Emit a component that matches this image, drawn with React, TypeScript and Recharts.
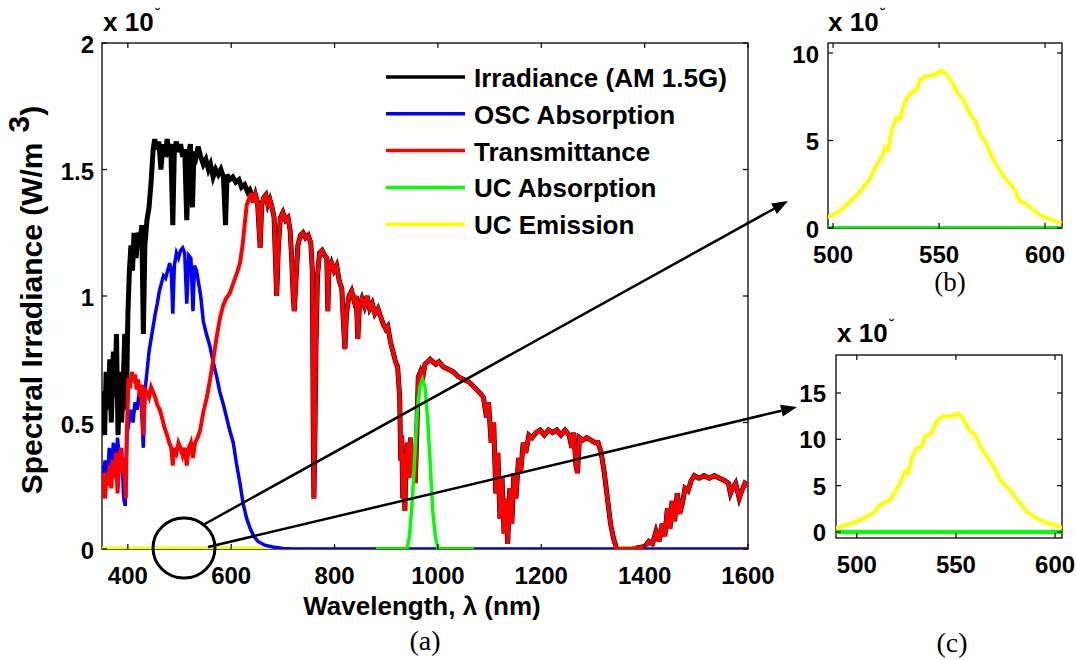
import React from 'react';
import { LineChart, Line, XAxis, YAxis } from 'recharts';

const SANS = '"Liberation Sans", Arial, Helvetica, sans-serif';
const SERIF = '"Liberation Serif", "Times New Roman", Times, serif';

// ---------- panel (a): 350-1600 nm ----------
const mainXTicks = [400, 600, 800, 1000, 1200, 1400, 1600];
const mainYTicks = [0, 0.5, 1, 1.5, 2];

// AM 1.5G, short-wavelength part (black shows above the red here)
const irrShortNm = [350, 352, 355, 358, 362, 365, 368, 372, 375, 378, 381, 385, 388, 391, 394, 397, 400, 403, 406, 409, 412, 416, 420, 424, 427, 430, 433, 437, 441, 445, 449, 452, 456, 460, 464, 468, 472, 476, 479, 483, 487, 490, 494, 498, 502, 506, 510, 514, 518, 521, 525, 528, 532, 536, 541, 546, 551, 556, 560, 565, 570, 575, 580, 585, 589, 592, 597, 603, 609, 615, 620, 626, 632, 636];
const irrShort = [0.6, 0.62, 0.45, 0.7, 0.55, 0.75, 0.5, 0.78, 0.6, 0.85, 0.45, 0.7, 0.5, 0.65, 0.85, 0.55, 0.92, 1.1, 1.2, 1.1, 1.25, 1.15, 1.25, 1.22, 1.28, 0.85, 1.2, 1.3, 1.35, 1.45, 1.58, 1.62, 1.58, 1.61, 1.5, 1.6, 1.55, 1.62, 1.58, 1.6, 1.28, 1.58, 1.61, 1.57, 1.6, 1.55, 1.58, 1.3, 1.57, 1.6, 1.35, 1.57, 1.55, 1.59, 1.55, 1.52, 1.54, 1.5, 1.52, 1.47, 1.5, 1.48, 1.5, 1.47, 1.28, 1.48, 1.46, 1.47, 1.45, 1.46, 1.43, 1.44, 1.41, 1.42];

// transmittance, short-wavelength part
const transShortNm = [350, 353, 356, 359, 362, 365, 368, 371, 374, 377, 380, 383, 386, 390, 393, 396, 398, 401, 405, 408, 411, 414, 417, 420, 423, 426, 430, 433, 437, 441, 445, 449, 453, 457, 462, 466, 471, 476, 480, 484, 487, 490, 494, 498, 502, 506, 510, 514, 518, 522, 526, 530, 535, 540, 546, 553, 560, 566, 572, 578, 584, 590, 597, 604, 611, 617, 622, 626, 630, 634, 637];
const transShort = [0.3, 0.25, 0.2, 0.3, 0.25, 0.33, 0.24, 0.35, 0.28, 0.38, 0.22, 0.32, 0.4, 0.3, 0.36, 0.2, 0.45, 0.66, 0.65, 0.7, 0.66, 0.69, 0.63, 0.67, 0.6, 0.65, 0.45, 0.63, 0.62, 0.6, 0.64, 0.62, 0.6, 0.57, 0.55, 0.52, 0.48, 0.45, 0.42, 0.4, 0.33, 0.4, 0.38, 0.42, 0.4, 0.37, 0.4, 0.33, 0.4, 0.42, 0.36, 0.42, 0.44, 0.47, 0.54, 0.6, 0.68, 0.76, 0.84, 0.91, 0.96, 0.99, 1.01, 1.05, 1.09, 1.13, 1.2, 1.28, 1.36, 1.38, 1.4];

// from 640 nm on, irradiance and transmittance coincide
const sharedNm = [640, 643, 647, 651, 656, 659, 663, 667, 671, 675, 679, 683, 686, 688, 691, 695, 700, 705, 710, 714, 717, 720, 722, 725, 729, 734, 739, 744, 749, 754, 757, 759, 760, 762, 764, 767, 771, 776, 781, 785, 787, 789, 794, 799, 804, 809, 814, 817, 820, 823, 828, 833, 838, 842, 845, 848, 853, 858, 863, 868, 873, 878, 884, 889, 894, 899, 903, 908, 913, 918, 922, 926, 928, 930, 932, 934, 936, 938, 941, 944, 947, 950, 953, 956, 959, 962, 966, 970, 975, 980, 985, 990, 996, 1002, 1010, 1020, 1030, 1040, 1050, 1060, 1070, 1080, 1088, 1094, 1098, 1103, 1108, 1112, 1116, 1120, 1124, 1128, 1132, 1135, 1139, 1143, 1147, 1151, 1156, 1160, 1165, 1170, 1176, 1182, 1190, 1198, 1206, 1214, 1222, 1230, 1238, 1246, 1254, 1259, 1263, 1267, 1270, 1274, 1280, 1288, 1296, 1304, 1310, 1316, 1322, 1328, 1334, 1340, 1346, 1350, 1375, 1400, 1408, 1415, 1422, 1428, 1434, 1439, 1444, 1449, 1453, 1458, 1463, 1468, 1473, 1478, 1484, 1490, 1496, 1505, 1515, 1525, 1535, 1545, 1555, 1562, 1566, 1570, 1576, 1583, 1588, 1594, 1600];
const sharedVal = [1.4, 1.37, 1.4, 1.37, 1.19, 1.36, 1.39, 1.4, 1.36, 1.38, 1.35, 1.31, 1.12, 1.0, 1.18, 1.31, 1.33, 1.3, 1.31, 1.26, 1.15, 1.0, 0.94, 1.05, 1.2, 1.24, 1.25, 1.23, 1.24, 1.21, 1.1, 0.4, 0.2, 0.45, 0.8, 1.08, 1.17, 1.18, 1.16, 1.15, 0.94, 1.1, 1.13, 1.1, 1.12, 1.06, 1.03, 0.9, 0.79, 0.93, 1.0, 1.02, 0.98, 1.0, 0.83, 0.96, 0.99, 0.96, 1.0, 0.95, 0.97, 0.93, 0.95, 0.92, 0.89, 0.87, 0.88, 0.82, 0.78, 0.74, 0.72, 0.6, 0.35, 0.45, 0.2, 0.38, 0.15, 0.33, 0.42, 0.28, 0.44, 0.3, 0.4, 0.26, 0.45, 0.68, 0.7, 0.67, 0.73, 0.74, 0.75, 0.74, 0.73, 0.74, 0.72, 0.71, 0.7, 0.68, 0.67, 0.66, 0.64, 0.62, 0.6, 0.52, 0.58, 0.42, 0.5, 0.22, 0.38, 0.12, 0.28, 0.06, 0.2, 0.02, 0.24, 0.1, 0.3, 0.2, 0.36, 0.3, 0.42, 0.38, 0.45, 0.44, 0.46, 0.47, 0.45, 0.47, 0.46, 0.47, 0.45, 0.47, 0.45, 0.4, 0.46, 0.33, 0.3, 0.44, 0.43, 0.44, 0.43, 0.42, 0.42, 0.38, 0.3, 0.2, 0.1, 0.04, 0.0, 0, 0, 0.01, 0.03, 0.02, 0.07, 0.03, 0.1, 0.05, 0.16, 0.08, 0.19, 0.11, 0.22, 0.14, 0.18, 0.24, 0.23, 0.27, 0.29, 0.28, 0.29, 0.28, 0.29, 0.28, 0.27, 0.26, 0.22, 0.24, 0.26, 0.2, 0.23, 0.26, 0.25];

// OSC absorption
const oscNm = [350, 353, 356, 360, 364, 368, 372, 376, 380, 384, 388, 392, 395, 398, 402, 406, 410, 414, 418, 422, 426, 430, 433, 437, 441, 445, 449, 453, 457, 461, 465, 469, 473, 477, 481, 484, 487, 490, 494, 498, 502, 506, 510, 514, 518, 522, 526, 529, 533, 537, 541, 546, 552, 559, 565, 572, 578, 585, 591, 597, 604, 610, 617, 623, 630, 637, 644, 652, 665, 681, 700, 720, 1600];
const oscAbs = [0.33, 0.3, 0.35, 0.25, 0.4, 0.3, 0.42, 0.28, 0.44, 0.35, 0.4, 0.2, 0.17, 0.45, 0.5, 0.55, 0.5, 0.58, 0.55, 0.62, 0.58, 0.4, 0.62, 0.7, 0.78, 0.83, 0.88, 0.93, 0.97, 1.02, 1.05, 1.08, 1.07, 1.1, 1.13, 1.1, 0.93, 1.12, 1.17, 1.15, 1.18, 1.19, 1.17, 0.97, 1.16, 1.15, 0.94, 1.12, 1.1, 1.05, 1.0, 0.9, 0.85, 0.8, 0.74, 0.68, 0.62, 0.57, 0.52, 0.47, 0.42, 0.34, 0.26, 0.18, 0.12, 0.08, 0.05, 0.03, 0.015, 0.008, 0.002, 0, 0];

// UC absorption
const ucAbsNm = [880, 940, 945, 950, 955, 960, 965, 970, 975, 980, 985, 990, 995, 1000, 1070];
const ucAbs = [0, 0, 0.05, 0.18, 0.36, 0.55, 0.64, 0.67, 0.64, 0.52, 0.34, 0.15, 0.05, 0, 0];

// UC emission (too small to see on this scale)
const ucEmNm = [350, 500, 550, 600, 700, 1600];
const ucEm = [0, 0, 0, 0, 0, 0];

// ---------- panel (b) ----------
const bXTicks = [500, 550, 600];
const bYTicks = [0, 5, 10];
const bEmNm = [497, 503, 508, 512, 515, 517, 520, 523, 524.5, 526, 527.6, 530, 531.6, 534, 537, 539.4, 541, 544, 547.3, 551.2, 553.6, 556.7, 559.1, 561.4, 564.6, 567, 569.3, 572.4, 575.6, 578.7, 581.9, 585.8, 588.2, 590.5, 594.5, 597.6, 600.7, 603.9, 607.8];
const bEm = [0.57, 0.95, 1.51, 1.98, 2.45, 2.74, 3.49, 4.06, 4.62, 4.5, 5.57, 6.33, 6.24, 7.27, 7.73, 7.92, 8.48, 8.67, 8.73, 9.0, 8.77, 8.2, 7.65, 7.35, 6.5, 6.12, 5.37, 4.8, 3.87, 3.3, 2.74, 2.17, 1.51, 1.42, 1.04, 0.75, 0.57, 0.44, 0.28];
const bAbsNm = [490, 615];
const bAbs = [0, 0];

// ---------- panel (c) ----------
const cXTicks = [500, 550, 600];
const cYTicks = [0, 5, 10, 15];
const cEmNm = [489, 494.9, 499.9, 505, 509.2, 511.7, 516.8, 519.3, 521.8, 524.3, 526, 527.7, 530.2, 532.8, 534.4, 537.8, 540.3, 543.7, 547.9, 551.3, 553.8, 557.2, 559.7, 562.2, 565.6, 569, 572.3, 575.7, 579.1, 582.4, 585.8, 589.2, 592.5, 595.9, 600.1, 603.5];
const cEm = [0.4, 0.76, 1.12, 1.66, 2.2, 2.92, 3.46, 4.36, 5.27, 6.53, 6.35, 7.97, 9.06, 9.24, 10.32, 10.68, 11.94, 12.49, 12.49, 12.78, 12.13, 10.86, 10.5, 9.24, 8.15, 7.05, 5.61, 4.9, 4.0, 3.1, 2.2, 1.66, 1.3, 0.94, 0.76, 0.4];
const cAbsNm = [480, 615];
const cAbs = [0, 0];

const legendItems = [
  { name: 'Irradiance (AM 1.5G)', color: '#000000' },
  { name: 'OSC Absorption', color: '#0000ff' },
  { name: 'Transmittance', color: '#ff0000' },
  { name: 'UC Absorption', color: '#00ff00' },
  { name: 'UC Emission', color: '#ffff00' },
];

const pts = (xs: number[], ys: number[]) => xs.map((x, i) => ({ x, y: ys[i] }));

const irradianceData = [...pts(irrShortNm, irrShort), ...pts(sharedNm, sharedVal)];
const transmittanceData = [...pts(transShortNm, transShort), ...pts(sharedNm, sharedVal)];
const oscData = pts(oscNm, oscAbs);
const ucAbsData = pts(ucAbsNm, ucAbs);
const ucEmData = pts(ucEmNm, ucEm);

type Box = { left: number; right: number; top: number; bottom: number; xLabelY: number; yLabelGap: number; yDy: number };

// MATLAB style: ticks point inwards and are mirrored on the opposite side
const xTick = (b: Box) => (props: any) => {
  const { x, payload } = props;
  return (
    <g>
      <line x1={x} x2={x} y1={b.bottom} y2={b.bottom - 5} stroke="#000" strokeWidth={1.2} />
      <line x1={x} x2={x} y1={b.top} y2={b.top + 5} stroke="#000" strokeWidth={1.2} />
      <text x={x} y={b.xLabelY} textAnchor="middle" fontFamily={SANS} fontWeight="bold" fontSize={24} fill="#000">
        {payload.value}
      </text>
    </g>
  );
};

const yTick = (b: Box) => (props: any) => {
  const { y, payload } = props;
  return (
    <g>
      <line x1={b.left} x2={b.left + 5} y1={y} y2={y} stroke="#000" strokeWidth={1.2} />
      <line x1={b.right} x2={b.right - 5} y1={y} y2={y} stroke="#000" strokeWidth={1.2} />
      <text x={b.left - b.yLabelGap} y={y + b.yDy} textAnchor="end" fontFamily={SANS} fontWeight="bold" fontSize={24} fill="#000">
        {payload.value}
      </text>
    </g>
  );
};

const MAIN: Box = { left: 102, right: 748, top: 43, bottom: 549, xLabelY: 584, yLabelGap: 8, yDy: 10 };
const PB: Box = { left: 58, right: 292, top: 43, bottom: 228, xLabelY: 263, yLabelGap: 9, yDy: 10 };
const PC: Box = { left: 66, right: 292, top: 45, bottom: 228, xLabelY: 263, yLabelGap: 10, yDy: 9 };

function MainChart() {
  return (
    <LineChart width={790} height={600} margin={{ top: 43, right: 42, bottom: 21, left: 52 }}>
      <XAxis type="number" dataKey="x" domain={[350, 1600]} ticks={mainXTicks} interval={0} height={30}
        axisLine={false} tickLine={false} tick={xTick(MAIN)} allowDataOverflow />
      <YAxis type="number" domain={[0, 2]} ticks={mainYTicks} interval={0} width={50}
        axisLine={false} tickLine={false} tick={yTick(MAIN)} allowDataOverflow />
      <Line data={irradianceData} dataKey="y" type="linear" stroke="#000000" strokeWidth={5} dot={false} isAnimationActive={false} />
      <Line data={ucEmData} dataKey="y" type="linear" stroke="#ffff00" strokeWidth={5} dot={false} isAnimationActive={false} />
      <Line data={oscData} dataKey="y" type="linear" stroke="#0000ff" strokeWidth={3.5} dot={false} isAnimationActive={false} />
      <Line data={transmittanceData} dataKey="y" type="linear" stroke="#ff0000" strokeWidth={4} dot={false} isAnimationActive={false} />
      <Line data={ucAbsData} dataKey="y" type="linear" stroke="#00ff00" strokeWidth={3.5} dot={false} isAnimationActive={false} />
    </LineChart>
  );
}

function ZoomChart({ box, xDomain, yDomain, xTicks, yTicks, em, abs }: any) {
  return (
    <LineChart width={306} height={300} margin={{ top: box.top, right: 306 - box.right, bottom: 300 - box.bottom - 30, left: box.left - 40 }}>
      <XAxis type="number" dataKey="x" domain={xDomain} ticks={xTicks} interval={0} height={30}
        axisLine={false} tickLine={false} tick={xTick(box)} allowDataOverflow />
      <YAxis type="number" domain={yDomain} ticks={yTicks} interval={0} width={40}
        axisLine={false} tickLine={false} tick={yTick(box)} allowDataOverflow />
      <Line data={em} dataKey="y" type="linear" stroke="#ffff00" strokeWidth={4} dot={false} isAnimationActive={false} />
      <Line data={abs} dataKey="y" type="linear" stroke="#00ff00" strokeWidth={4} dot={false} isAnimationActive={false} />
    </LineChart>
  );
}

function Arrow({ x1, y1, x2, y2 }: { x1: number; y1: number; x2: number; y2: number }) {
  const a = Math.atan2(y2 - y1, x2 - x1);
  const len = 16;
  const half = 6;
  const bx = x2 - len * Math.cos(a);
  const by = y2 - len * Math.sin(a);
  const p1 = `${bx + half * Math.sin(a)},${by - half * Math.cos(a)}`;
  const p2 = `${bx - half * Math.sin(a)},${by + half * Math.cos(a)}`;
  return (
    <g>
      <line x1={x1} y1={y1} x2={bx} y2={by} stroke="#000" strokeWidth={2.5} />
      <polygon points={`${x2},${y2} ${p1} ${p2}`} fill="#000" />
    </g>
  );
}

// axes frames sit behind the data, as in MATLAB
function Frames() {
  return (
    <svg width={1076} height={660} style={{ position: 'absolute', left: 0, top: 0 }}>
      <rect x={102} y={43} width={646} height={506} fill="none" stroke="#000" strokeWidth={1.3} />
      <rect x={828} y={43} width={234} height={185} fill="none" stroke="#000" strokeWidth={1.3} />
      <rect x={836} y={355} width={226} height={183} fill="none" stroke="#000" strokeWidth={1.3} />
    </svg>
  );
}

function Overlay() {
  const t = { fontFamily: SANS, fontWeight: 'bold' as const, fill: '#000' };
  return (
    <svg width={1076} height={660} style={{ position: 'absolute', left: 0, top: 0, pointerEvents: 'none' }}>
      {/* exponent labels */}
      <text x={103} y={31} fontSize={26} {...t}>x 10<tspan dx={2} dy={-12} fontSize={14}>˘</tspan></text>
      <text x={828} y={31} fontSize={26} {...t}>x 10<tspan dx={2} dy={-12} fontSize={14}>˘</tspan></text>
      <text x={837} y={342} fontSize={26} {...t}>x 10<tspan dx={2} dy={-12} fontSize={14}>˘</tspan></text>

      {/* axis titles */}
      <text x={422} y={615} textAnchor="middle" fontSize={26} {...t}>Wavelength, λ (nm)</text>
      <text x={42} y={300} textAnchor="middle" fontSize={30} {...t} transform="rotate(-90 42 300)">
        Spectral Irradiance (W/m<tspan dx={10} dy={-13}>3</tspan><tspan dy={13}>)</tspan>
      </text>

      {/* legend */}
      {legendItems.map((it, i) => {
        const y = 77 + i * 36.8;
        return (
          <g key={it.name}>
            <line x1={386} x2={465} y1={y} y2={y} stroke={it.color} strokeWidth={3.5} />
            <text x={474} y={y + 10} fontSize={26} {...t}>{it.name}</text>
          </g>
        );
      })}

      {/* sub-figure captions */}
      <text x={425} y={650} textAnchor="middle" fontFamily={SERIF} fontSize={28} fill="#000">(a)</text>
      <text x={950} y={291} textAnchor="middle" fontFamily={SERIF} fontSize={27} fill="#000">(b)</text>
      <text x={952} y={652} textAnchor="middle" fontFamily={SERIF} fontSize={28} fill="#000">(c)</text>

      {/* zoom annotation */}
      <ellipse cx={184} cy={548} rx={31} ry={30} fill="none" stroke="#000" strokeWidth={3} />
      <Arrow x1={203} y1={525} x2={788} y2={201} />
      <Arrow x1={208} y1={547} x2={797} y2={407} />
    </svg>
  );
}

export default function App() {
  return (
    <div style={{ position: 'absolute', left: 0, top: 0, width: 1076, height: 660, background: '#fff', overflow: 'hidden' }}>
      <Frames />
      <div style={{ position: 'absolute', left: 0, top: 0 }}>
        <MainChart />
      </div>
      <div style={{ position: 'absolute', left: 770, top: 0 }}>
        <ZoomChart box={PB} xDomain={[497.6, 608]} yDomain={[0, 10.57]} xTicks={bXTicks} yTicks={bYTicks}
          em={pts(bEmNm, bEm)} abs={pts(bAbsNm, bAbs)} />
      </div>
      <div style={{ position: 'absolute', left: 770, top: 310 }}>
        <ZoomChart box={PC} xDomain={[489.5, 603.5]} yDomain={[-0.65, 19.1]} xTicks={cXTicks} yTicks={cYTicks}
          em={pts(cEmNm, cEm)} abs={pts(cAbsNm, cAbs)} />
      </div>
      <Overlay />
    </div>
  );
}
